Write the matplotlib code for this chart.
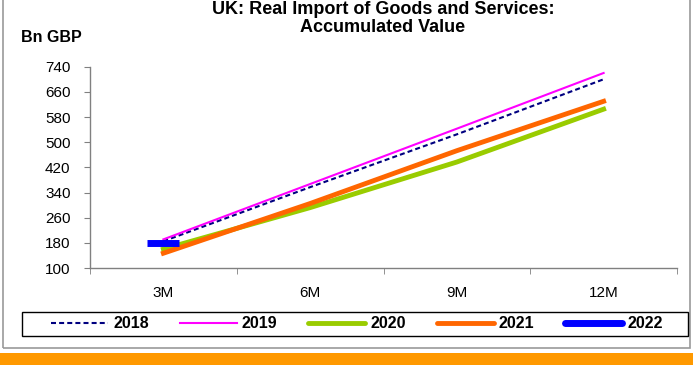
import matplotlib
matplotlib.use("Agg")
import matplotlib.pyplot as plt
from matplotlib.patches import Rectangle
from matplotlib.lines import Line2D

plt.rcParams['font.family'] = ['Liberation Sans', 'DejaVu Sans']

categories = ["3M", "6M", "9M", "12M"]
y2018 = [185, 357, 525, 700]
y2019 = [191, 367, 543, 720]
y2020 = [160, 292, 437, 605]
y2021 = [147, 305, 473, 630]
y2022 = [178]
yticks = [100, 180, 260, 340, 420, 500, 580, 660, 740]

W, H = 693, 365
fig = plt.figure(figsize=(W / 100, H / 100), dpi=100)
fig.patch.set_facecolor("white")

# outer frame and orange band
fig.add_artist(Rectangle((3 / W, 17 / H), 687 / W, (H - 17) / H + 0.01, transform=fig.transFigure,
                         fill=False, edgecolor="#999999", linewidth=1.2))
fig.add_artist(Rectangle((0, 0), 1, 12 / H, transform=fig.transFigure,
                         facecolor="#FF9900", edgecolor="none"))

dash = (0, (2.4, 1.5))
ax = fig.add_axes([90 / W, 1 - 268 / H, (677 - 90) / W, (268 - 66.7) / H])
x = list(range(len(categories)))
ax.plot(x, y2018, color="#000080", linestyle=dash, linewidth=1.5, label="2018")
ax.plot(x, y2019, color="#FF00FF", linewidth=1.5, label="2019")
ax.plot(x, y2020, color="#99CC00", linewidth=3.5, label="2020")
ax.plot(x, y2021, color="#FF6600", linewidth=3.5, label="2021")
ax.plot(x[:len(y2022)], y2022, color="#0000FF", linewidth=5, marker="_",
        markersize=23, markeredgewidth=5, label="2022")

ax.set_xlim(-0.5, len(categories) - 0.5)
ax.set_ylim(100, 740)
ax.set_yticks(yticks)
ax.set_xticks(x)
ax.set_xticklabels(categories, fontsize=11)
ax.set_xticks([i - 0.5 for i in range(len(categories) + 1)], minor=True)
ax.tick_params(axis="x", which="major", length=0, pad=13)
ax.tick_params(axis="x", which="minor", length=4, color="#808080", direction="out")
ax.tick_params(axis="y", labelsize=11, length=4, color="#808080", direction="out", pad=10)
for s in ["top", "right"]:
    ax.spines[s].set_visible(False)
for s in ["left", "bottom"]:
    ax.spines[s].set_color("#808080")
    ax.spines[s].set_linewidth(1.0)

fig.text(383 / W, 1 - 10 / H, "UK: Real Import of Goods and Services:",
         ha="center", va="center", fontsize=13, fontweight="bold")
fig.text(383 / W, 1 - 28 / H, "Accumulated Value",
         ha="center", va="center", fontsize=13, fontweight="bold")
fig.text(21 / W, 1 - 38 / H, "Bn GBP", ha="left", va="center", fontsize=11.5, fontweight="bold")

handles = [
    Line2D([], [], color="#000080", linestyle=dash, linewidth=1.5),
    Line2D([], [], color="#FF00FF", linewidth=1.5),
    Line2D([], [], color="#99CC00", linewidth=3.5, solid_capstyle="round"),
    Line2D([], [], color="#FF6600", linewidth=3.5, solid_capstyle="round"),
    Line2D([], [], color="#0000FF", linewidth=5, solid_capstyle="round"),
]
labels = ["2018", "2019", "2020", "2021", "2022"]
fs = 11.5
fpx = fs * 100 / 72
leg = fig.legend(handles, labels, loc="center left", bbox_to_anchor=(51 / W, 1 - 324 / H),
                 ncol=5, frameon=False, prop={"weight": "bold", "size": fs},
                 handlelength=57 / fpx, handletextpad=5 / fpx,
                 columnspacing=31 / fpx, borderpad=0, borderaxespad=0)
fig.add_artist(Rectangle((22 / W, 1 - 336 / H), 666 / W, 24 / H, transform=fig.transFigure,
                         fill=False, edgecolor="black", linewidth=1.0))

fig.savefig("out.png", dpi=100, facecolor="white")
